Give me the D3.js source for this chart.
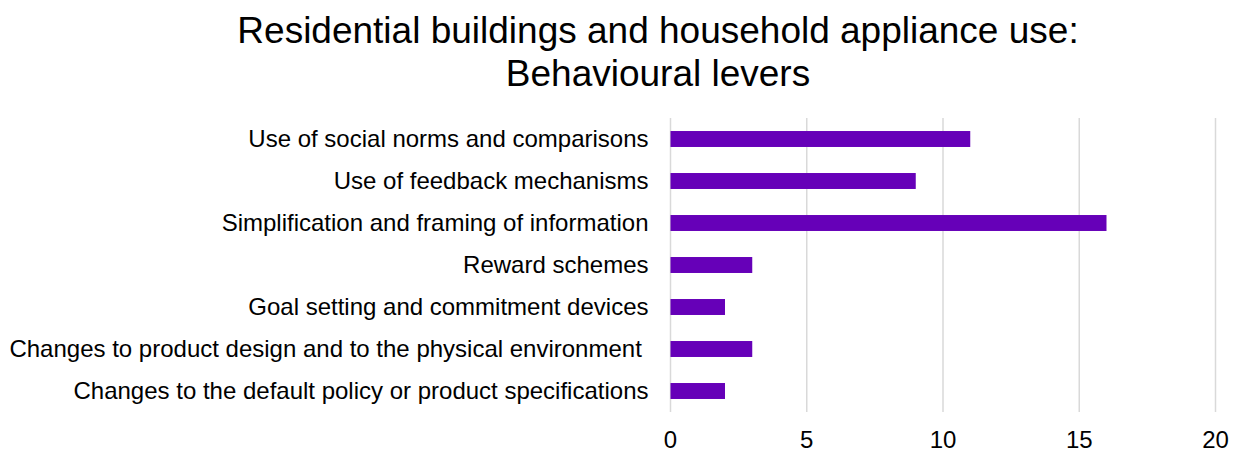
<!DOCTYPE html>
<html>
<head>
<meta charset="utf-8">
<script src="https://cdn.jsdelivr.net/npm/d3@7"></script>
<style>
  body { margin: 0; background: #fff; }
  text { font-family: "Liberation Sans", Arial, sans-serif; fill: #000; }
</style>
</head>
<body>
<div id="chart"></div>
<script>
// data
const categories = [
    'Use of social norms and comparisons',
    'Use of feedback mechanisms',
    'Simplification and framing of information',
    'Reward schemes',
    'Goal setting and commitment devices',
    'Changes to product design and to the physical environment ',
    'Changes to the default policy or product specifications'
];
const counts = [11, 9, 16, 3, 2, 3, 2];
const xTicks = [0, 5, 10, 15, 20];
const titleLines = ['Residential buildings and household appliance use:', 'Behavioural levers'];

const width = 1238, height = 453;
const margin = {top: 118, left: 670.5};

const svg = d3.select('#chart').append('svg')
    .attr('width', width)
    .attr('height', height);

const chart = svg.append('g')
    .attr('transform', `translate(${margin.left},${margin.top})`);

const xScale = d3.scaleLinear().domain([0, 20]).range([0, 545]);
const yScale = d3.scaleBand().domain(categories).range([0, 294]).paddingInner(0.62).paddingOuter(0.31);

// gridlines
chart.selectAll('.grid')
    .data(xTicks)
    .join('line')
    .attr('class', 'grid')
    .attr('x1', d => xScale(d))
    .attr('x2', d => xScale(d))
    .attr('y1', 0)
    .attr('y2', 294)
    .attr('stroke', '#d9d9d9')
    .attr('stroke-width', 1.5);

// bars
chart.selectAll('.bar')
    .data(counts)
    .join('rect')
    .attr('class', 'bar')
    .attr('x', xScale(0))
    .attr('y', (d, i) => yScale(categories[i]))
    .attr('width', d => xScale(d) - xScale(0))
    .attr('height', yScale.bandwidth())
    .attr('fill', '#6600b8');

// category labels
chart.selectAll('.cat-label')
    .data(categories)
    .join('text')
    .attr('class', 'cat-label')
    .attr('x', -22)
    .attr('y', d => yScale(d) + yScale.bandwidth() / 2)
    .attr('dy', '0.35em')
    .attr('text-anchor', 'end')
    .style('font-size', '24px')
    .style('white-space', 'pre')
    .text(d => d);

// x tick labels (kept just inside the bottom edge)
chart.selectAll('.tick-label')
    .data(xTicks)
    .join('text')
    .attr('class', 'tick-label')
    .attr('x', d => xScale(d))
    .attr('y', 329.5)
    .attr('text-anchor', 'middle')
    .style('font-size', '24px')
    .text(d => d);

// title
svg.selectAll('.title')
    .data(titleLines)
    .join('text')
    .attr('class', 'title')
    .attr('x', 658)
    .attr('y', (d, i) => 43 + i * 43)
    .attr('text-anchor', 'middle')
    .style('font-size', '37px')
    .text(d => d);
</script>
</body>
</html>
